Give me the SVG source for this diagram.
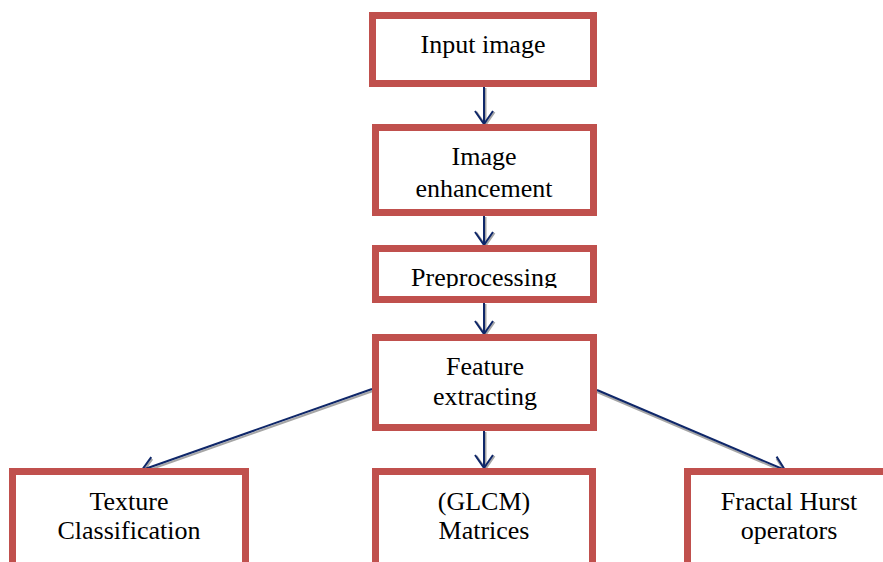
<svg xmlns="http://www.w3.org/2000/svg" width="883" height="562" viewBox="0 0 883 562">
<style>
.box{fill:#fff;stroke:#C0504D;stroke-width:7}
.t{font-family:"Liberation Serif","Times New Roman",serif;font-size:26px;fill:#000;text-anchor:middle}
.ln{stroke:#0F2769;stroke-width:2;fill:none}
.sh{stroke:#A6A6A6;stroke-width:2;fill:none}
</style>
<defs>
<marker id="ah" markerUnits="userSpaceOnUse" markerWidth="30" markerHeight="30" refX="15" refY="15" orient="auto" overflow="visible">
<path d="M2,6 L15,15 L2,24" fill="none" stroke="#0F2769" stroke-width="2"/>
</marker>
<marker id="ahs" markerUnits="userSpaceOnUse" markerWidth="30" markerHeight="30" refX="15" refY="15" orient="auto" overflow="visible">
<path d="M2,6 L15,15 L2,24" fill="none" stroke="#A6A6A6" stroke-width="2"/>
</marker>
<clipPath id="pc"><rect x="376" y="248" width="218" height="40"/></clipPath>
</defs>
<rect width="883" height="562" fill="#fff"/>
<g id="connectors">
<line class="sh" x1="485.5" y1="88" x2="485.5" y2="125" marker-end="url(#ahs)"/>
<line class="sh" x1="485.5" y1="217" x2="485.5" y2="246" marker-end="url(#ahs)"/>
<line class="sh" x1="485.5" y1="304" x2="485.5" y2="335" marker-end="url(#ahs)"/>
<line class="sh" x1="485.5" y1="432" x2="485.5" y2="469" marker-end="url(#ahs)"/>
<line class="sh" x1="373" y1="391" x2="143" y2="472" marker-end="url(#ahs)"/>
<line class="sh" x1="597" y1="392" x2="785" y2="472" marker-end="url(#ahs)"/>
<line class="ln" x1="484" y1="87" x2="484" y2="124" marker-end="url(#ah)"/>
<line class="ln" x1="484" y1="216" x2="484" y2="245" marker-end="url(#ah)"/>
<line class="ln" x1="484" y1="303" x2="484" y2="334" marker-end="url(#ah)"/>
<line class="ln" x1="484" y1="431" x2="484" y2="468" marker-end="url(#ah)"/>
<line class="ln" x1="372" y1="389" x2="142" y2="470" marker-end="url(#ah)"/>
<line class="ln" x1="597" y1="390" x2="785" y2="470" marker-end="url(#ah)"/>
</g>
<g id="input">
<rect class="box" x="372.5" y="15.5" width="221" height="68"/>
<text class="t" x="483" y="53">Input image</text>
</g>
<g id="enhancement">
<rect class="box" x="375.5" y="127.5" width="218" height="85"/>
<text class="t" x="484" y="165">Image</text>
<text class="t" x="484" y="197">enhancement</text>
</g>
<g id="preprocessing">
<rect class="box" x="375.5" y="248.5" width="218" height="51"/>
<text class="t" x="484" y="286" clip-path="url(#pc)">Preprocessing</text>
</g>
<g id="feature">
<rect class="box" x="375.5" y="337.5" width="218" height="90"/>
<text class="t" x="485" y="375">Feature</text>
<text class="t" x="485" y="405">extracting</text>
</g>
<g id="texture">
<rect class="box" x="12.5" y="471.5" width="233" height="110"/>
<text class="t" x="129" y="510">Texture</text>
<text class="t" x="129" y="539">Classification</text>
</g>
<g id="glcm">
<rect class="box" x="375.5" y="471.5" width="217" height="110"/>
<text class="t" x="484" y="510">(GLCM)</text>
<text class="t" x="484" y="539">Matrices</text>
</g>
<g id="fractal">
<rect class="box" x="687.5" y="471.5" width="210" height="110"/>
<text class="t" x="789" y="510">Fractal Hurst</text>
<text class="t" x="789" y="539">operators</text>
</g>
</svg>
